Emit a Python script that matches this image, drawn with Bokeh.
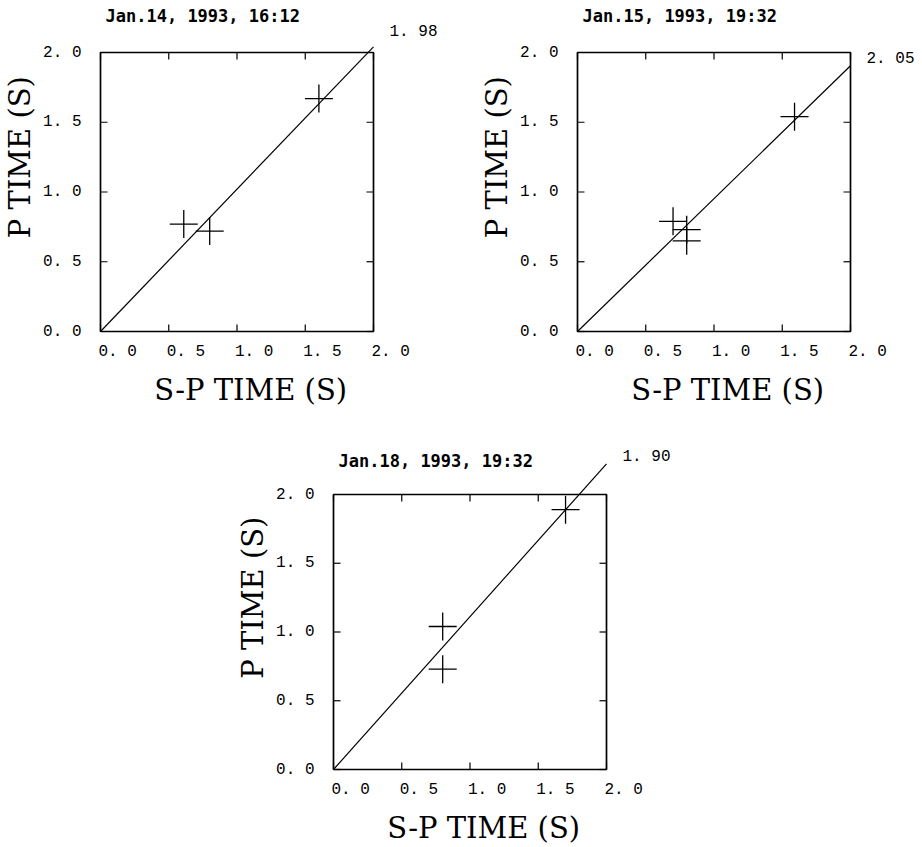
import math
from bokeh.plotting import figure
from bokeh.models import Range1d
from bokeh.core.properties import value
from bokeh.layouts import column, row
from bokeh.embed import file_html
from bokeh.resources import INLINE

# ---- data ----
titles = ["Jan.14, 1993, 16:12", "Jan.15, 1993, 19:32", "Jan.18, 1993, 19:32"]
ratios = [1.98, 2.05, 1.90]
ratio_labels = ["1. 98", "2. 05", "1. 90"]

sp_time_1 = [0.61, 0.80, 1.60]
p_time_1 = [0.77, 0.72, 1.67]
sp_time_2 = [0.70, 0.80, 0.80, 1.59]
p_time_2 = [0.79, 0.73, 0.65, 1.54]
sp_time_3 = [0.80, 0.80, 1.70]
p_time_3 = [1.04, 0.73, 1.89]

ticks = [0.0, 0.5, 1.0, 1.5, 2.0]
tick_labels = ["0. 0", "0. 5", "1. 0", "1. 5", "2. 0"]
x_label = "S-P TIME (S)"
y_label = "P TIME (S)"

AX_MIN, AX_MAX = 0.0, 2.0
MONO = "Liberation Mono"
TITLE_FONT = "DejaVu Sans Mono"
LABEL_FONT = "DejaVu Serif"


def make_panel(title, ratio, rlabel, xs, ys, W, H, L, T, fw, fh, rdy, tdy):
    ux = fw / (AX_MAX - AX_MIN)
    uy = fh / (AX_MAX - AX_MIN)
    xr = Range1d(AX_MIN - L / ux, AX_MAX + (W - L - fw) / ux)
    yr = Range1d(AX_MIN - (H - T - fh) / uy, AX_MAX + T / uy)
    p = figure(frame_width=W, frame_height=H, min_border=0,
               x_range=xr, y_range=yr,
               x_axis_location=None, y_axis_location=None,
               output_backend="svg", toolbar_location=None)
    p.grid.visible = False
    p.outline_line_color = None
    p.background_fill_color = "white"
    p.border_fill_color = "white"

    # plot box
    p.quad(left=[AX_MIN], right=[AX_MAX], bottom=[AX_MIN], top=[AX_MAX],
           fill_color=None, line_color="black", line_width=1.7)

    # inward ticks on all four sides
    n = len(ticks)
    tk = dict(length=7, length_units="screen", line_color="black", line_width=1.2)
    p.ray(x=[AX_MIN] * n, y=ticks, angle=0, **tk)
    p.ray(x=[AX_MAX] * n, y=ticks, angle=math.pi, **tk)
    p.ray(x=ticks, y=[AX_MIN] * n, angle=math.pi / 2, **tk)
    p.ray(x=ticks, y=[AX_MAX] * n, angle=-math.pi / 2, **tk)

    # tick labels
    p.text(x=[AX_MIN] * n, y=ticks, text=tick_labels, x_offset=-19,
           text_font=value(MONO), text_font_size="16px", text_color="black",
           text_align="right", text_baseline="middle")
    p.text(x=ticks, y=[AX_MIN] * n, text=tick_labels, x_offset=-2, y_offset=20,
           text_font=value(MONO), text_font_size="16px", text_color="black",
           text_align="left", text_baseline="middle")

    # fitted line P = (S-P)/(Vp/Vs - 1)
    y_end = AX_MAX / (ratio - 1.0)
    p.line(x=[AX_MIN, AX_MAX], y=[AX_MIN, y_end], line_color="black", line_width=1.2)

    p.scatter(xs, ys, marker="cross", size=28, line_color="black", line_width=1.3)

    p.text(x=[AX_MAX], y=[y_end], text=[rlabel], x_offset=16, y_offset=rdy,
           text_font=value(MONO), text_font_size="16px", text_color="black",
           text_align="left", text_baseline="middle")

    p.text(x=[AX_MIN], y=[AX_MAX], text=[title], x_offset=5, y_offset=tdy,
           text_font=value(TITLE_FONT), text_font_style="bold",
           text_font_size="17px", text_color="black",
           text_align="left", text_baseline="middle")

    p.text(x=[1.1], y=[AX_MIN], text=[x_label], y_offset=58,
           text_font=value(LABEL_FONT), text_font_size="29px", text_color="black",
           text_align="center", text_baseline="middle")
    p.text(x=[AX_MIN], y=[1.25], text=[y_label], x_offset=-81, angle=math.pi / 2,
           text_font=value(LABEL_FONT), text_font_size="29px", text_color="black",
           text_align="center", text_baseline="middle")
    return p


p1 = make_panel(titles[0], ratios[0], ratio_labels[0], sp_time_1, p_time_1,
                461, 420, 100, 52, 273, 279, -15, -37)
p2 = make_panel(titles[1], ratios[1], ratio_labels[1], sp_time_2, p_time_2,
                461, 420, 116, 52, 273, 279, -7, -37)
p3 = make_panel(titles[2], ratios[2], ratio_labels[2], sp_time_3, p_time_3,
                922, 427, 333, 74, 273, 275, -7, -34)

layout = column(row(p1, p2), p3)
open("out.html", "w").write(file_html(layout, INLINE))
